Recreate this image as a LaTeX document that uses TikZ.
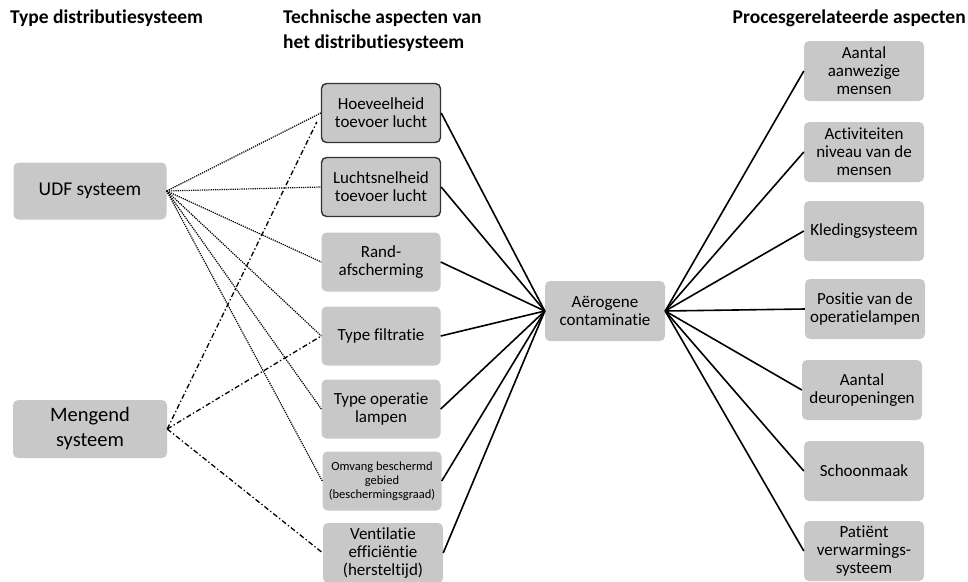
\documentclass[tikz,border=0pt]{standalone}
\usepackage{fontspec}
\setmainfont{Carlito}[Ligatures=NoCommon]
\begin{document}
\begin{tikzpicture}[x=1pt,y=-1pt,
  box/.style={draw=none,fill=boxgray,rounded corners=5pt,align=center,inner sep=1pt,
    minimum width=119pt,minimum height=59pt,font=\fontsize{17}{18}\selectfont},
  dbox/.style={box,draw=black!80,line width=1.4pt},
  bigbox/.style={box,minimum width=153pt,minimum height=57pt,font=\fontsize{19.5}{24}\selectfont},
  hdr/.style={font=\bfseries\fontsize{19.5}{25}\selectfont,inner sep=0pt},
  udf/.style={densely dotted,line width=1.2pt},
  mix/.style={line width=1.3pt,dash pattern=on 5pt off 2.5pt on 1.3pt off 2.5pt},
  solid/.style={line width=1.6pt}]
\definecolor{boxgray}{RGB}{200,200,200}
\useasboundingbox (0,0) rectangle (968,581);
% headers
\node[hdr,anchor=west] (h1) at (10,18) {Type distributiesysteem};
\node[hdr,anchor=west,align=left] (h2) at (283,31) {Technische aspecten van\\het distributiesysteem};
\node[hdr,anchor=east] (h3) at (966,18) {Procesgerelateerde aspecten};
% left
\node[bigbox] (udf) at (90,191) {UDF systeem};
\node[bigbox,minimum width=154pt,minimum height=58pt,font=\fontsize{20.5}{25}\selectfont] (meng) at (90,429) {Mengend\\systeem};
% middle
\node[dbox] (hoev) at (381,113) {Hoeveelheid\\toevoer lucht};
\node[dbox] (lucht) at (381,187) {Luchtsnelheid\\toevoer lucht};
\node[box] (rand) at (381,262) {Rand-\\afscherming};
\node[box] (filt) at (381,336) {Type filtratie};
\node[box] (lamp) at (381,409) {Type operatie\\lampen};
\node[box,font=\fontsize{12.5}{14}\selectfont] (omv) at (382,481) {Omvang beschermd\\gebied\\(beschermingsgraad)};
\node[box,minimum width=120pt,minimum height=60pt] (vent) at (383,553) {Ventilatie\\efficiëntie\\(hersteltijd)};
% centre
\node[box,minimum width=120pt,minimum height=60pt] (aer) at (605,311) {Aërogene\\contaminatie};
% right
\node[box,minimum width=120pt,minimum height=60pt] (r1) at (864,71) {Aantal\\aanwezige\\mensen};
\node[box,minimum width=120pt,minimum height=60pt] (r2) at (864,152) {Activiteiten\\niveau van de\\mensen};
\node[box,minimum width=120pt,minimum height=60pt] (r3) at (864,231) {Kledingsysteem};
\node[box,minimum width=120pt,minimum height=60pt] (r4) at (865,309) {Positie van de\\operatielampen};
\node[box,minimum width=120pt,minimum height=60pt] (r5) at (862,390) {Aantal\\deuropeningen};
\node[box,minimum width=120pt,minimum height=60pt] (r6) at (864,471) {Schoonmaak};
\node[box,minimum width=120pt,minimum height=60pt] (r7) at (864,551) {Patiënt\\verwarmings-\\systeem};
% UDF connections
\foreach \t in {hoev,lucht,rand,filt,lamp,omv}
  \draw[udf] (udf.east) -- (\t.west);
% Mengend connections
\draw[mix] (meng.east) -- ([yshift=-9pt,xshift=-4pt]hoev.west);
\draw[mix] (meng.east) -- (filt.west);
\draw[mix] (meng.east) -- (vent.west);
% centre connections
\foreach \t in {hoev,lucht,rand,filt,lamp,omv,vent}
  \draw[solid] (aer.west) -- (\t.east);
\foreach \t in {r1,r2,r3,r4,r5,r6,r7}
  \draw[solid] (aer.east) -- (\t.west);
\end{tikzpicture}
\end{document}
